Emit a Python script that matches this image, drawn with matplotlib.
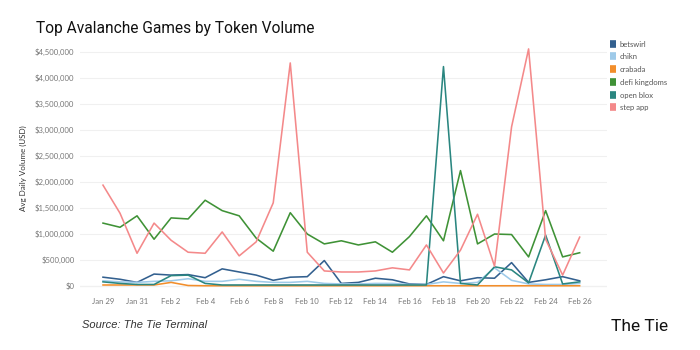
import matplotlib.pyplot as plt
import numpy as np

plt.rcParams["font.family"] = ["Lato", "DejaVu Sans"]

# daily values, Jan 29 .. Feb 26, in USD millions
days = ["Jan 29", "Jan 30", "Jan 31", "Feb 1", "Feb 2", "Feb 3", "Feb 4", "Feb 5",
        "Feb 6", "Feb 7", "Feb 8", "Feb 9", "Feb 10", "Feb 11", "Feb 12", "Feb 13",
        "Feb 14", "Feb 15", "Feb 16", "Feb 17", "Feb 18", "Feb 19", "Feb 20",
        "Feb 21", "Feb 22", "Feb 23", "Feb 24", "Feb 25", "Feb 26"]

betswirl = [0.17, 0.13, 0.07, 0.23, 0.21, 0.22, 0.16, 0.33, 0.27, 0.21, 0.11, 0.17,
            0.18, 0.49, 0.05, 0.07, 0.15, 0.12, 0.04, 0.03, 0.18, 0.10, 0.16, 0.15,
            0.45, 0.07, 0.12, 0.18, 0.10]
chikn = [0.10, 0.08, 0.07, 0.09, 0.10, 0.14, 0.09, 0.09, 0.13, 0.09, 0.07, 0.07,
         0.09, 0.05, 0.04, 0.04, 0.05, 0.05, 0.03, 0.03, 0.08, 0.05, 0.07, 0.35,
         0.11, 0.04, 0.03, 0.03, 0.05]
crabada = [0.02, 0.02, 0.02, 0.02, 0.07, 0.01, 0.005, 0.005, 0.005, 0.005, 0.005,
           0.005, 0.005, 0.005, 0.005, 0.005, 0.005, 0.005, 0.005, 0.005, 0.005,
           0.005, 0.005, 0.005, 0.005, 0.005, 0.005, 0.005, 0.005]
defi_kingdoms = [1.21, 1.13, 1.35, 0.90, 1.31, 1.29, 1.65, 1.45, 1.35, 0.92, 0.67,
                 1.41, 1.00, 0.81, 0.87, 0.79, 0.85, 0.65, 0.95, 1.35, 0.87, 2.22,
                 0.81, 1.00, 0.99, 0.56, 1.45, 0.56, 0.64]
open_blox = [0.08, 0.05, 0.03, 0.03, 0.20, 0.21, 0.05, 0.02, 0.02, 0.02, 0.02, 0.02,
             0.02, 0.02, 0.02, 0.02, 0.02, 0.02, 0.02, 0.02, 4.22, 0.05, 0.02, 0.37,
             0.31, 0.06, 0.98, 0.04, 0.08]
step_app = [1.94, 1.40, 0.63, 1.21, 0.88, 0.65, 0.63, 1.04, 0.58, 0.85, 1.60, 4.29,
            0.65, 0.29, 0.27, 0.27, 0.29, 0.35, 0.31, 0.79, 0.25, 0.69, 1.38, 0.38,
            3.06, 4.56, 0.90, 0.21, 0.94]

series = [
    ("betswirl", betswirl, "#33608f"),
    ("chikn", chikn, "#9ecae9"),
    ("crabada", crabada, "#f28e2b"),
    ("defi kingdoms", defi_kingdoms, "#3f9236"),
    ("open blox", open_blox, "#2a8680"),
    ("step app", step_app, "#f4898a"),
]

fig = plt.figure(figsize=(7, 3.5), dpi=100)
ax = fig.add_axes([0.1143, 0.1657, 0.7527, 0.7057])

x = np.arange(len(days))
for name, vals, col in series:
    ax.plot(x, np.array(vals) * 1e6, color=col, lw=1.15, label=name)

ax.set_xlim(-1.35, 29.6)
ax.set_ylim(-0.115e6, 4.635e6)
yt = np.arange(0, 4.5e6 + 1, 5e5)
ax.set_yticks(yt)
ax.set_yticklabels(["${:,.0f}".format(v) for v in yt])
ax.set_xticks(x[::2])
ax.set_xticklabels(days[::2])
ax.tick_params(length=0, labelsize=5.6, labelcolor="#777777", pad=4)
for s in ax.spines.values():
    s.set_visible(False)
ax.grid(axis="y", color="#f0f0f0", lw=0.8)
ax.axhline(0, color="#dddddd", lw=0.8, zorder=0.5)
ax.set_ylabel("Avg Daily Volume (USD)", fontsize=5.8, color="#333333", labelpad=6)

leg = ax.legend(loc="upper left", bbox_to_anchor=(1.0, 1.03), frameon=False,
                fontsize=5.5, handlelength=0.8, handleheight=0.9, labelspacing=0.75,
                handletextpad=0.5, borderaxespad=0)
for h, (_, _, col) in zip(leg.legend_handles, series):
    h.set_linewidth(5.5)
    h.set_solid_capstyle("butt")
for t in leg.get_texts():
    t.set_color("#555555")

fig.text(0.051, 0.905, "Top Avalanche Games by Token Volume", fontsize=11.2,
         family=["Roboto", "DejaVu Sans"], color="#111111", va="baseline")
fig.text(0.117, 0.063, "Source: The Tie Terminal", fontsize=8, style="italic",
         family=["Liberation Sans", "DejaVu Sans"], color="#333333", va="baseline")
fig.text(0.873, 0.053, "The Tie", fontsize=12.5, family=["Roboto", "DejaVu Sans"],
         color="#111111", va="baseline")

fig.savefig("out.png", dpi=100, facecolor="white")
